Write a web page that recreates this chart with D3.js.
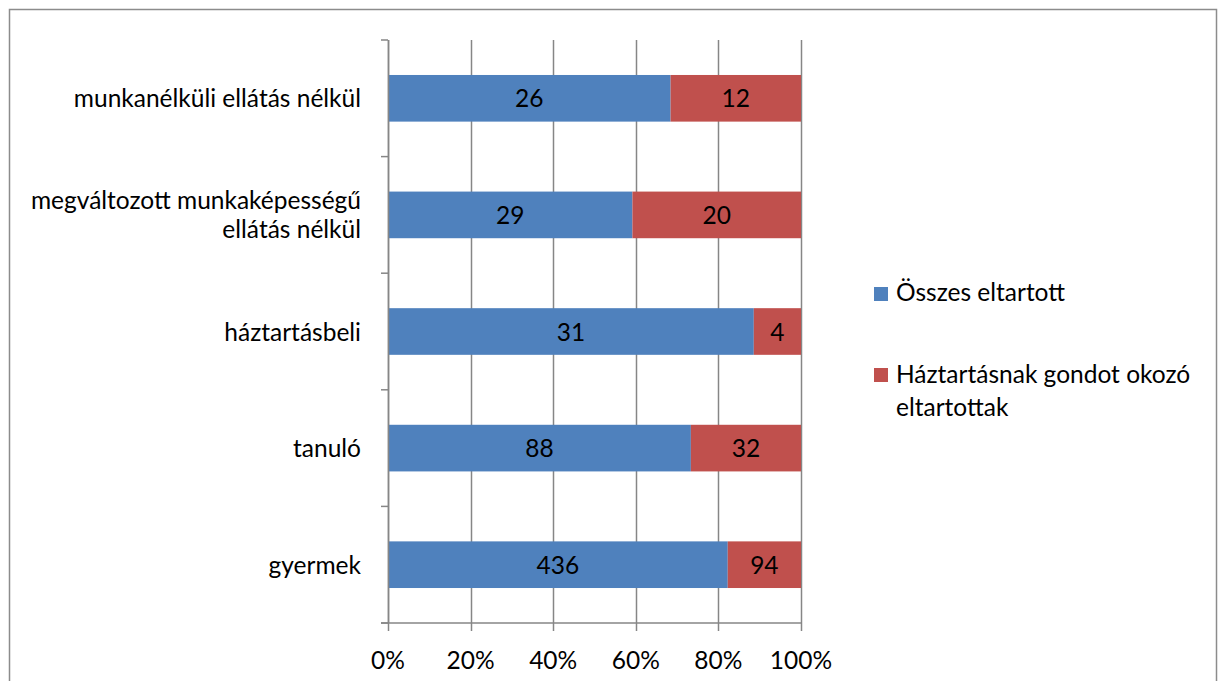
<!DOCTYPE html>
<html><head><meta charset="utf-8">
<script src="https://cdn.jsdelivr.net/npm/d3@7"></script>
<style>body{margin:0;background:#fff}svg{display:block}text{font-family:Lato,"Open Sans",sans-serif;fill:#000}</style>
</head><body>
<svg id="c" width="1218" height="681"></svg>
<script>
const categories = ["munkanélküli ellátás nélkül", "megváltozott munkaképességű ellátás nélkül", "háztartásbeli", "tanuló", "gyermek"];
const categoryLines = [["munkanélküli ellátás nélkül"], ["megváltozott munkaképességű", "ellátás nélkül"], ["háztartásbeli"], ["tanuló"], ["gyermek"]];
const seriesNames = ["Összes eltartott", "Háztartásnak gondot okozó eltartottak"];
const legendLines = [["Összes eltartott"], ["Háztartásnak gondot okozó", "eltartottak"]];
const osszes = [26, 29, 31, 88, 436];
const gondot = [12, 20, 4, 32, 94];
const xTicks = [0, 0.2, 0.4, 0.6, 0.8, 1.0];
const colors = ["#4F81BD", "#C0504D"];
const FS = 24.5;
const DY = 9;

const svg = d3.select("#c");
svg.append("rect").attr("x", 9.5).attr("y", 9.5).attr("width", 1207).attr("height", 700)
  .attr("fill", "none").attr("stroke", "#8c8c8c").attr("stroke-width", 1.5);

const x = d3.scaleLinear().domain([0, 1]).range([388, 801]);
const y = d3.scaleBand().domain(categories).range([40, 623]).paddingInner(0.6).paddingOuter(0.3);

const g = svg.append("g");
g.selectAll("line.grid").data(xTicks).join("line")
  .attr("x1", d => Math.round(x(d)) + 0.5).attr("x2", d => Math.round(x(d)) + 0.5)
  .attr("y1", 40).attr("y2", 631)
  .attr("stroke", "#868686").attr("stroke-width", 1.5);

const data = categories.map((c, i) => ({c, a: osszes[i], b: gondot[i], t: osszes[i] + gondot[i], lines: categoryLines[i]}));
const rows = g.selectAll("g.row").data(data).join("g");
rows.append("rect").attr("x", x(0)).attr("y", d => y(d.c)).attr("height", y.bandwidth())
  .attr("width", d => x(d.a / d.t) - x(0)).attr("fill", colors[0]);
rows.append("rect").attr("x", d => x(d.a / d.t)).attr("y", d => y(d.c)).attr("height", y.bandwidth())
  .attr("width", d => x(1) - x(d.a / d.t)).attr("fill", colors[1]);
rows.append("text").attr("x", d => (x(0) + x(d.a / d.t)) / 2).attr("y", d => y(d.c) + y.bandwidth() / 2 + DY)
  .attr("text-anchor", "middle").attr("font-size", FS).text(d => d.a);
rows.append("text").attr("x", d => (x(d.a / d.t) + x(1)) / 2).attr("y", d => y(d.c) + y.bandwidth() / 2 + DY)
  .attr("text-anchor", "middle").attr("font-size", FS).text(d => d.b);

g.append("line").attr("x1", 388.5).attr("x2", 388.5).attr("y1", 40).attr("y2", 623).attr("stroke", "#868686").attr("stroke-width", 1.5);
const step = (623 - 40) / categories.length;
g.selectAll("line.yt").data(d3.range(categories.length + 1)).join("line")
  .attr("x1", 381).attr("x2", 388).attr("y1", d => 40 + d * step).attr("y2", d => 40 + d * step)
  .attr("stroke", "#868686").attr("stroke-width", 1.5);
g.append("line").attr("x1", 381).attr("x2", x(1) + 0.5).attr("y1", 623).attr("y2", 623).attr("stroke", "#868686").attr("stroke-width", 1.5);

rows.each(function(d) {
  const n = d.lines.length;
  const cy = y(d.c) + y.bandwidth() / 2;
  d.lines.forEach((l, k) => {
    d3.select(this).append("text").attr("x", 361).attr("text-anchor", "end").attr("font-size", FS)
      .attr("y", cy + DY + (k - (n - 1) / 2) * 29).text(l);
  });
});

g.selectAll("text.xl").data(xTicks).join("text")
  .attr("x", d => x(d)).attr("y", 669).attr("text-anchor", "middle").attr("font-size", FS)
  .text(d => d3.format(".0%")(d));

const leg = svg.append("g");
const legSq = [287, 368];
const legBase = [301, 383];
seriesNames.forEach((s, i) => {
  leg.append("rect").attr("x", 874).attr("y", legSq[i]).attr("width", 14).attr("height", 14).attr("fill", colors[i]);
  legendLines[i].forEach((l, k) => {
    leg.append("text").attr("x", 896).attr("y", legBase[i] + k * 33).attr("font-size", FS).text(l);
  });
});
</script>
</body></html>
